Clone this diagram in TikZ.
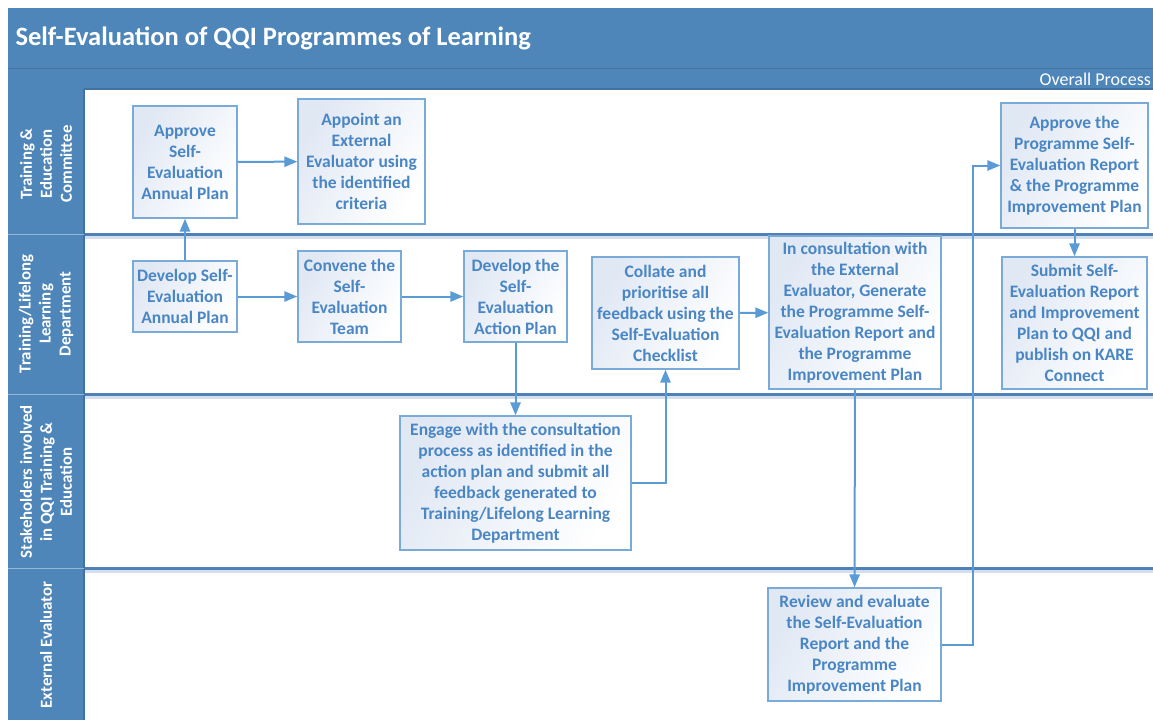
\documentclass[tikz,border=0pt]{standalone}
\usepackage{fontspec}
\setmainfont{Carlito}
\usepackage{tikz}
\usetikzlibrary{arrows}
\definecolor{hdrblue}{HTML}{4F86BA}
\definecolor{hdrdark}{HTML}{41739F}
\definecolor{laneline}{HTML}{4F81B8}
\definecolor{boxline}{HTML}{7AAAD8}
\definecolor{boxtext}{HTML}{4A86C4}
\definecolor{boxfill}{HTML}{E0E8F4}
\definecolor{flow}{HTML}{5B9BD5}

\begin{document}
\begin{tikzpicture}[x=1pt, y=-1pt,
	task_node/.style={draw=boxline, line width=1.8pt, left color=boxfill, right color=white, shading angle=60, text=boxtext, align=center, inner sep=2pt, font=\bfseries\fontsize{17.5}{21}\selectfont},
	lane_label/.style={rotate=90, text=white, align=center, font=\bfseries\fontsize{16.8}{20}\selectfont},
	lane_line/.style={draw=laneline, line width=3pt},
	flow_arrow/.style={->, >=triangle 45, draw=flow, line width=2pt}]
				\useasboundingbox (0,0) rectangle (1153,720);
				% header and lane column
				\fill[hdrblue] (8,8) rectangle (1160,89);
				\fill[hdrblue] (8,89) rectangle (84,720);
				\draw[hdrdark, line width=1.8pt] (8,68.5) -- (1160,68.5);
				\draw[hdrdark, line width=1.2pt] (84,89) -- (1160,89);
				\draw[hdrdark, line width=1.2pt] (84,89) -- (84,720);
				\node[anchor=west, text=white, font=\bfseries\fontsize{26.5}{30}\selectfont] (title) at (12,38) {Self-Evaluation of QQI Programmes of Learning};
				\node[anchor=east, text=white, font=\fontsize{18}{20}\selectfont, inner sep=1pt] (phase) at (1152,79) {Overall Process};
				
				% lanes
				\foreach \y in {234,394,568}{
					\draw[white!75!laneline, line width=3pt] (85,\y+3) -- (1160,\y+3);
					\draw[lane_line] (85,\y) -- (1160,\y);
					\draw[white!40!hdrblue, line width=1pt] (8,\y) -- (84,\y);
				}
				\node[lane_label] (l1) at (46,164) {Training \&\\Education\\Committee};
				\node[lane_label] (l2) at (46,314) {Training/Lifelong\\Learning\\Department};
				\node[lane_label] (l3) at (46,482) {Stakeholders involved\\in QQI Training \&\\Education};
				\node[lane_label] (l4) at (46,645) {External Evaluator};
				
				% steps
				\node[task_node, minimum width=104, minimum height=112] (1) at (185,162) {Approve\\Self-\\Evaluation\\Annual Plan};
				\node[task_node, minimum width=127, minimum height=125] (2) at (361.5,161.5) {Appoint an\\External\\Evaluator using\\the identified\\criteria};
				\node[task_node, minimum width=104, minimum height=71] (3) at (185,296.5) {Develop Self-\\Evaluation\\Annual Plan};
				\node[task_node, minimum width=103, minimum height=91] (4) at (349.5,296.5) {Convene the\\Self-\\Evaluation\\Team};
				\node[task_node, minimum width=103, minimum height=91] (5) at (515.5,296.5) {Develop the\\Self-\\Evaluation\\Action Plan};
				\node[task_node, minimum width=147, minimum height=112] (6) at (665.5,313) {Collate and\\prioritise all\\feedback using the\\Self-Evaluation\\Checklist};
				\node[task_node, minimum width=172, minimum height=153] (7) at (855,312.5) {In consultation with\\the External\\Evaluator, Generate\\the Programme Self-\\Evaluation Report and\\the Programme\\Improvement Plan};
				\node[task_node, minimum width=147, minimum height=125] (8) at (1074.5,165.5) {Approve the\\Programme Self-\\Evaluation Report\\\& the Programme\\Improvement Plan};
				\node[task_node, minimum width=145, minimum height=132] (9) at (1074.5,323) {Submit Self-\\Evaluation Report\\and Improvement\\Plan to QQI and\\publish on KARE\\Connect};
				\node[task_node, minimum width=231, minimum height=134] (10) at (515.5,483) {Engage with the consultation\\process as identified in the\\action plan and submit all\\feedback generated to\\Training/Lifelong Learning\\Department};
				\node[task_node, minimum width=173, minimum height=113] (11) at (854.5,644.5) {Review and evaluate\\the Self-Evaluation\\Report and the\\Programme\\Improvement Plan};
				
				\path[every edge/.style={flow_arrow}]
				(3) edge (1)
				(1) edge (2)
				(3) edge (4)
				(4) edge (5)
				(5) edge (10)
				(6) edge (7)
				(7) edge (11)
				(8) edge (9);
				\draw[flow_arrow] (10.east) -| (6.south);
				\draw[flow_arrow] (11.east) -- ++(31,0) |- (8.west);
			\end{tikzpicture}
\end{document}
